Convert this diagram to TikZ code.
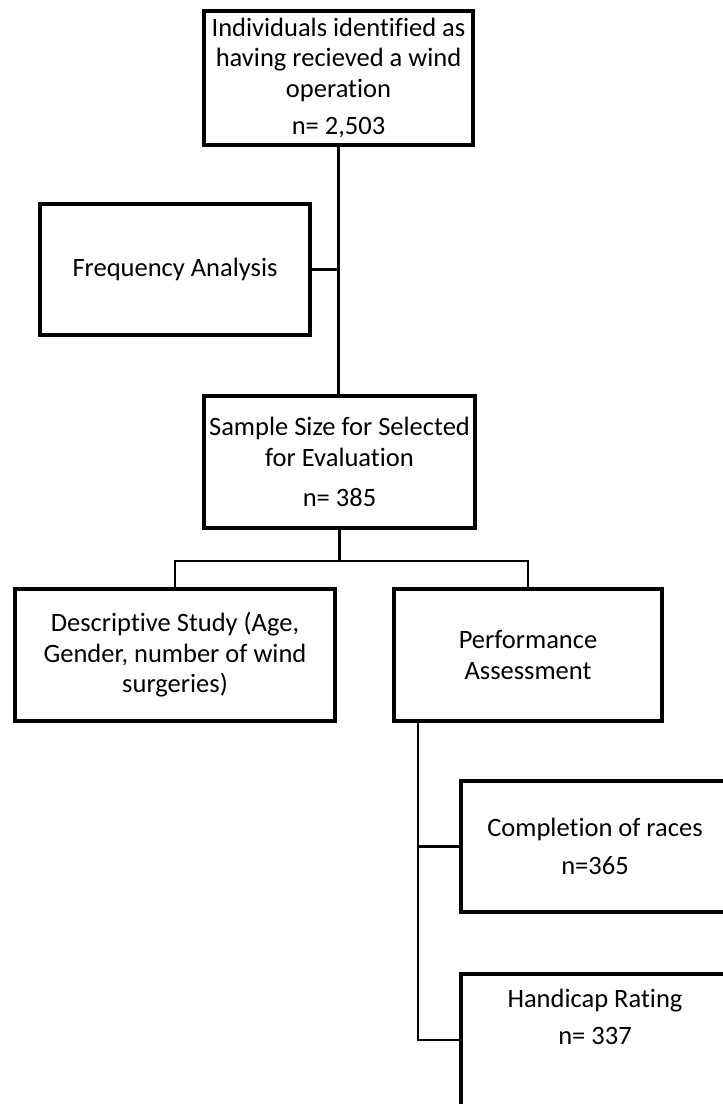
\documentclass[tikz,border=0pt]{standalone}
\usepackage{fontspec}
\setmainfont[Ligatures=CommonOff]{Carlito}
\usepackage{tikz}
\usetikzlibrary{positioning,calc}
\tikzset{
  box/.style={rectangle, draw=black, line width=3.6pt, align=center, inner xsep=1pt, inner ysep=0pt, font=\fontsize{26.5pt}{30.5pt}\selectfont},
  link/.style={draw=black, line width=2.2pt}
}

\begin{document}
\begin{tikzpicture}[x=1pt, y=-1pt]
  \clip (0,0) rectangle (723,1104);
  \node[box, minimum width=269pt, minimum height=134pt] (ident) at (338.5,78) {Individuals identified as\\having recieved a wind\\operation\\[7pt]n= 2,503};
  \node[box, minimum width=270pt, minimum height=131pt] (freq) at (175,269.5) {Frequency Analysis};
  \node[box, minimum width=271pt, minimum height=132pt] (sample) at (339.5,462) {Sample Size for Selected\\for Evaluation\\[10pt]n= 385};
  \node[box, minimum width=320pt, minimum height=132pt] (descr) at (175,655) {Descriptive Study (Age,\\Gender, number of wind\\surgeries)};
  \node[box, minimum width=268pt, minimum height=132pt] (perf) at (528,655) {Performance\\Assessment};
  \node[box, minimum width=268pt, minimum height=131pt] (compl) at (595,846.5) {Completion of races\\[7pt]n=365};
  \node[box, minimum width=268pt, minimum height=132pt, text depth=46pt] (handi) at (595,1040) {Handicap Rating\\[7pt]n= 337};
  % connectors
  \coordinate (split) at ($(sample.south)+(0,31)$);
  \coordinate (trunk) at ($(perf.south west)+(26,0)$);
  \draw[link] (ident.south) -- (ident.south |- sample.north);
  \draw[link] (freq.east) -- (freq.east -| ident.south);
  \draw[link] (sample.south) -- (split);
  \draw[link] (descr.north) |- (split) -| (perf.north);
  \draw[link] (trunk) |- (compl.west);
  \draw[link] (trunk) |- (handi.west);
\end{tikzpicture}
\end{document}
